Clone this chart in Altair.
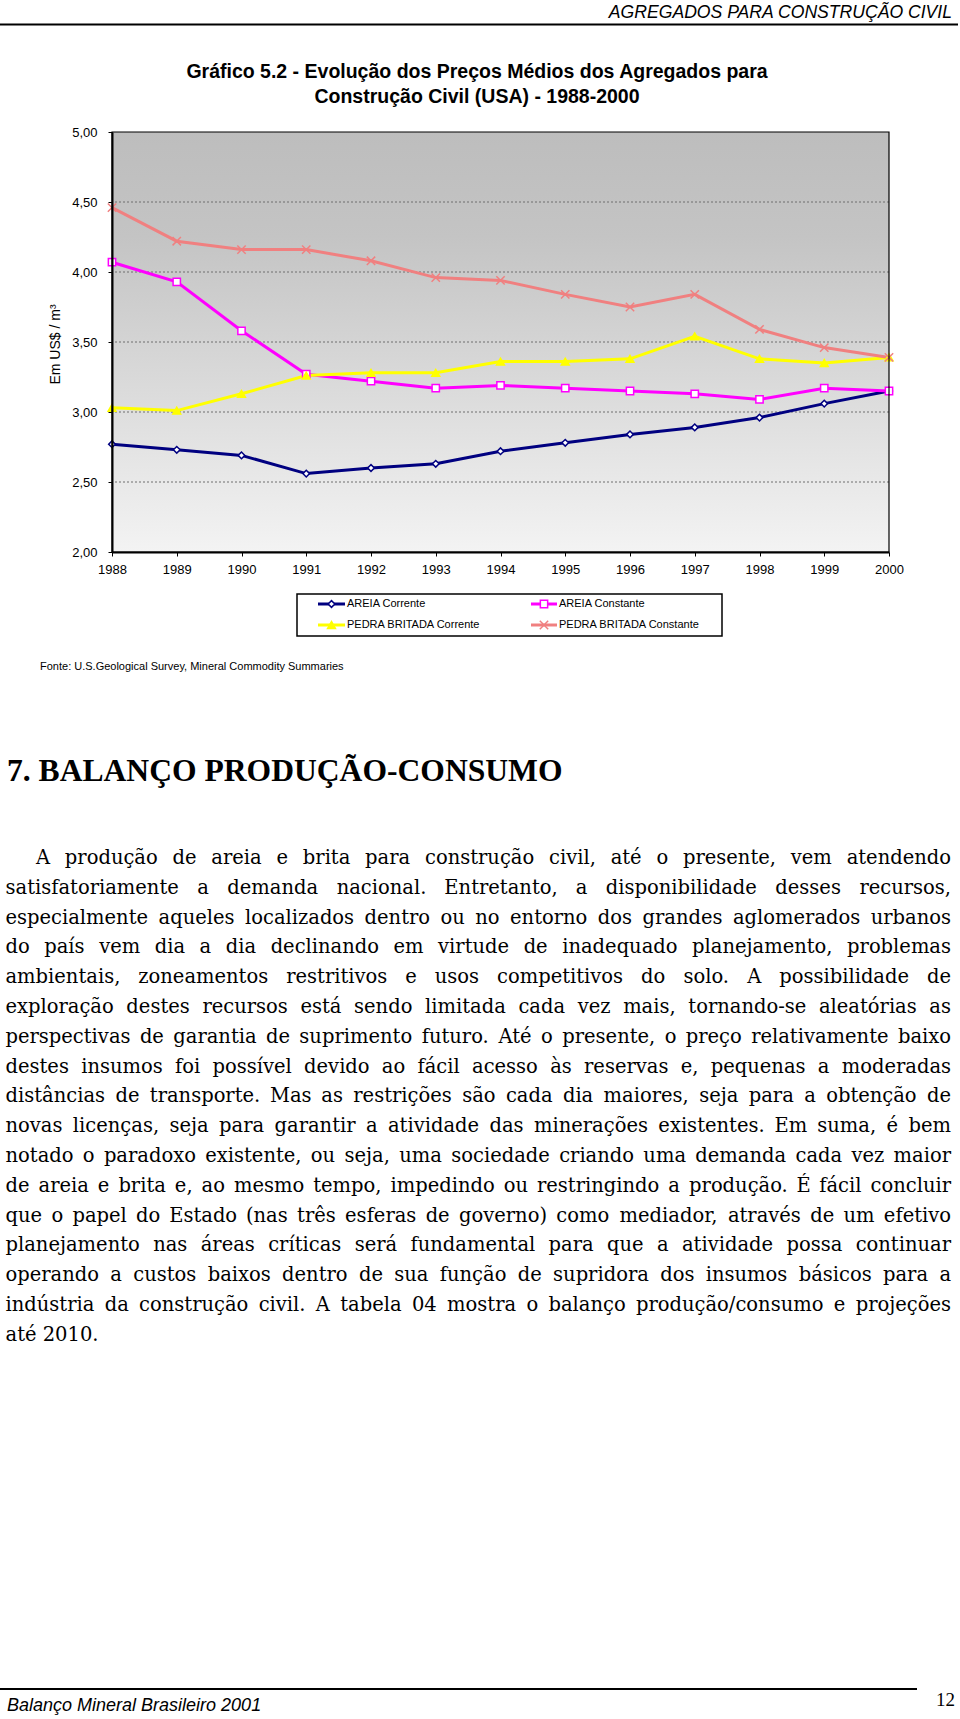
import unicodedata
import altair as alt
import pandas as pd

# ---------------- data ----------------
years = [1988, 1989, 1990, 1991, 1992, 1993, 1994, 1995, 1996, 1997, 1998, 1999, 2000]
areia_corrente = [2.77, 2.73, 2.69, 2.56, 2.60, 2.63, 2.72, 2.78, 2.84, 2.89, 2.96, 3.06, 3.15]
areia_constante = [4.07, 3.93, 3.58, 3.27, 3.22, 3.17, 3.19, 3.17, 3.15, 3.13, 3.09, 3.17, 3.15]
pedra_corrente = [3.03, 3.01, 3.13, 3.26, 3.28, 3.28, 3.36, 3.36, 3.38, 3.54, 3.38, 3.35, 3.39]
pedra_constante = [4.46, 4.22, 4.16, 4.16, 4.08, 3.96, 3.94, 3.84, 3.75, 3.84, 3.59, 3.46, 3.39]
series_names = ["AREIA Corrente", "AREIA Constante", "PEDRA BRITADA Corrente", "PEDRA BRITADA Constante"]
y_ticks = [2.0, 2.5, 3.0, 3.5, 4.0, 4.5, 5.0]
grid_values = [2.5, 3.0, 3.5, 4.0, 4.5]

header_text = "AGREGADOS PARA CONSTRUÇÃO CIVIL"
title_lines = ["Gráfico 5.2 - Evolução dos Preços Médios dos Agregados para",
               "Construção Civil (USA) - 1988-2000"]
y_title = "Em US$ / m³"
source_text = "Fonte: U.S.Geological Survey, Mineral Commodity Summaries"
section_title = "7. BALANÇO PRODUÇÃO-CONSUMO"
paragraph_lines = [
    "A produção de areia e brita para construção civil, até o presente, vem atendendo",
    "satisfatoriamente a demanda nacional. Entretanto, a disponibilidade desses recursos,",
    "especialmente aqueles localizados dentro ou no entorno dos grandes aglomerados urbanos",
    "do país vem dia a dia declinando em virtude de inadequado planejamento, problemas",
    "ambientais, zoneamentos restritivos e usos competitivos do solo. A possibilidade de",
    "exploração destes recursos está sendo limitada cada vez mais, tornando-se aleatórias as",
    "perspectivas de garantia de suprimento futuro. Até o presente, o preço relativamente baixo",
    "destes insumos foi possível devido ao fácil acesso às reservas e, pequenas a moderadas",
    "distâncias de transporte. Mas as restrições são cada dia maiores, seja para a obtenção de",
    "novas licenças, seja para garantir a atividade das minerações existentes. Em suma, é bem",
    "notado o paradoxo existente, ou seja, uma sociedade criando uma demanda cada vez maior",
    "de areia e brita e, ao mesmo tempo, impedindo ou restringindo a produção. É fácil concluir",
    "que o papel do Estado (nas três esferas de governo) como mediador, através de um efetivo",
    "planejamento nas áreas críticas será fundamental para que a atividade possa continuar",
    "operando a custos baixos dentro de sua função de supridora dos insumos básicos para a",
    "indústria da construção civil. A tabela 04 mostra o balanço produção/consumo e projeções",
    "até 2010.",
]
footer_text = "Balanço Mineral Brasileiro 2001"
page_number = "12"

# ---------------- geometry (page pixels) ----------------
PL, PT, PW, PH = 112, 132, 777, 420
PAGE_W, PAGE_H = 960, 1719


def px(x):
    return x - PL


def py(y):
    return y - PT


SANS = "Liberation Sans"
SERIF = "Liberation Serif"
BODY = "DejaVu Serif"

# ---------------- chart tables ----------------
rows = []
for name, vals in zip(series_names, [areia_corrente, areia_constante, pedra_corrente, pedra_constante]):
    for yr, v in zip(years, vals):
        rows.append({"series": name, "year": yr, "price": v})
df = pd.DataFrame(rows)

color_scale = alt.Scale(domain=series_names, range=["#000080", "#ff00ff", "#ffff00", "#f08080"])
fill_scale = alt.Scale(domain=series_names, range=["#ffffff", "#ffffff", "#ffff00", "transparent"])
shape_scale = alt.Scale(domain=series_names,
                        range=["diamond", "square", "triangle-up", "M-1,-1L1,1M-1,1L1,-1"])
size_scale = alt.Scale(domain=series_names, range=[45, 70, 55, 60])
sw_scale = alt.Scale(domain=series_names, range=[1.5, 1.5, 1, 2])

x_enc = alt.X("year:Q", scale=alt.Scale(domain=[1988, 2000], nice=False, zero=False),
              axis=alt.Axis(values=years, format="d", title=None, grid=False, tickSize=4,
                            labelFlush=False, labelOverlap=False,
                            labelPadding=7, labelFontSize=13, labelFont=SANS, labelColor="black",
                            domainColor="black", domainWidth=2, tickColor="black", zindex=1))
y_enc = alt.Y("price:Q", scale=alt.Scale(domain=[2, 5], nice=False, zero=False),
              axis=alt.Axis(values=y_ticks, labelFlush=False, labelOverlap=False,
                            labelExpr="replace(format(datum.value, '.2f'), '.', ',')",
                            title=y_title, titleX=-57, titleY=212, titleAngle=270,
                            titleAlign="center", titleBaseline="middle", titleFontSize=14,
                            titleFontWeight="normal", titleFont=SANS, titleColor="black",
                            grid=False, tickSize=4, labelPadding=11, labelFontSize=13,
                            labelFont=SANS, labelColor="black", domainColor="black",
                            domainWidth=2, tickColor="black", zindex=1))

bg_df = pd.DataFrame({"year": [years[0]], "year2": [years[-1]], "price": [y_ticks[0]], "price2": [y_ticks[-1]]})
gradient = alt.LinearGradient(gradient="linear", x1=0, x2=0, y1=0, y2=1,
                              stops=[alt.GradientStop(color="#bdbdbd", offset=0),
                                     alt.GradientStop(color="#c4c4c4", offset=0.25),
                                     alt.GradientStop(color="#f3f3f3", offset=1)])
background = alt.Chart(bg_df).mark_rect(color=gradient).encode(x=x_enc, x2="year2:Q", y=y_enc, y2="price2:Q")
frame = alt.Chart(bg_df).mark_rect(fill="transparent", stroke="black", strokeWidth=1.2).encode(
    x="year:Q", x2="year2:Q", y="price:Q", y2="price2:Q")

grid = alt.Chart(pd.DataFrame({"price": grid_values})).mark_rule(
    strokeDash=[2, 2], color="#6e6e6e", strokeWidth=1).encode(y="price:Q")

lines = alt.Chart(df).mark_line(strokeWidth=3).encode(
    x="year:Q", y="price:Q",
    color=alt.Color("series:N", scale=color_scale, legend=None),
    detail="series:N")

points = alt.Chart(df).mark_point(opacity=1).encode(
    x="year:Q", y="price:Q",
    stroke=alt.Stroke("series:N", scale=color_scale, legend=None),
    fill=alt.Fill("series:N", scale=fill_scale, legend=None),
    shape=alt.Shape("series:N", scale=shape_scale, legend=None),
    size=alt.Size("series:N", scale=size_scale, legend=None),
    strokeWidth=alt.StrokeWidth("series:N", scale=sw_scale, legend=None))

# ---------------- legend (drawn from series list) ----------------
leg_cols = [(318, 345, 347), (531, 557, 559)]
leg_rows = [604, 625]
leg = []
for i, name in enumerate(series_names):
    c0, c1, tx = leg_cols[i % 2]
    ry = leg_rows[i // 2]
    leg.append({"series": name, "lx0": px(c0), "lx1": px(c1), "lxm": px((c0 + c1) / 2),
                "ltx": px(tx), "ly": py(ry)})
leg_df = pd.DataFrame(leg)

leg_box = alt.Chart(pd.DataFrame({"k": [0]})).mark_rect(
    fill="white", stroke="black", strokeWidth=1.5).encode(
    x=alt.value(px(297)), x2=alt.value(px(722)), y=alt.value(py(594)), y2=alt.value(py(636)))
leg_lines = alt.Chart(leg_df).mark_rule(strokeWidth=3).encode(
    x=alt.X("lx0:Q", scale=None), x2="lx1:Q", y=alt.Y("ly:Q", scale=None),
    color=alt.Color("series:N", scale=color_scale, legend=None))
leg_pts = alt.Chart(leg_df).mark_point(opacity=1).encode(
    x=alt.X("lxm:Q", scale=None), y=alt.Y("ly:Q", scale=None),
    stroke=alt.Stroke("series:N", scale=color_scale, legend=None),
    fill=alt.Fill("series:N", scale=fill_scale, legend=None),
    shape=alt.Shape("series:N", scale=shape_scale, legend=None),
    size=alt.Size("series:N", scale=size_scale, legend=None),
    strokeWidth=alt.StrokeWidth("series:N", scale=sw_scale, legend=None))
leg_txt = alt.Chart(leg_df).mark_text(align="left", baseline="middle", font=SANS, fontSize=11,
                                      color="black").encode(
    x=alt.X("ltx:Q", scale=None), y=alt.Y("ly:Q", scale=None), text="series:N")

# ---------------- page text ----------------
one = pd.DataFrame({"k": [0]})


def text_at(txt, xp, yp, size, font, weight="normal", style="normal", align="left",
            baseline="alphabetic"):
    return alt.Chart(one).mark_text(text=txt, font=font, fontSize=size, fontWeight=weight,
                                    fontStyle=style, align=align, baseline=baseline,
                                    color="black").encode(x=alt.value(px(xp)), y=alt.value(py(yp)))


def hline(x0, x1, yp, w):
    return alt.Chart(one).mark_rule(color="black", strokeWidth=w).encode(
        x=alt.value(px(x0)), x2=alt.value(px(x1)), y=alt.value(py(yp)))


page = [
    text_at(header_text, 952, 18, 17.6, SANS, style="italic", align="right"),
    hline(0, 958, 24.5, 2),
    text_at(title_lines[0], 477, 78, 19.5, SANS, weight="bold", align="center"),
    text_at(title_lines[1], 477, 103, 19.5, SANS, weight="bold", align="center"),
    text_at(source_text, 40, 670, 11, SANS),
    text_at(section_title, 7, 781, 31.6, SERIF, weight="bold"),
    hline(0, 917, 1689, 2),
    text_at(footer_text, 7, 1711, 18, SANS, style="italic"),
    text_at(page_number, 955, 1706, 19, SERIF, align="right"),
]

# ---------------- justified paragraph ----------------
EM = {" ": 0.318, "a": 0.596, "b": 0.640, "c": 0.560, "d": 0.640, "e": 0.592, "f": 0.370,
      "g": 0.640, "h": 0.644, "i": 0.320, "j": 0.311, "k": 0.606, "l": 0.320, "m": 0.948,
      "n": 0.644, "o": 0.602, "p": 0.640, "q": 0.640, "r": 0.478, "s": 0.513, "t": 0.402,
      "u": 0.644, "v": 0.565, "w": 0.856, "x": 0.564, "y": 0.565, "z": 0.526,
      "A": 0.722, "B": 0.684, "C": 0.699, "D": 0.771, "E": 0.684, "F": 0.637, "G": 0.764,
      "H": 0.835, "I": 0.395, "J": 0.404, "K": 0.729, "L": 0.636, "M": 0.957, "N": 0.813,
      "O": 0.781, "P": 0.623, "Q": 0.781, "R": 0.691, "S": 0.657, "T": 0.684, "U": 0.790,
      "V": 0.722, "W": 1.041, "X": 0.722, "Y": 0.684, "Z": 0.662,
      ",": 0.318, ".": 0.318, "-": 0.339, "/": 0.337, "(": 0.390, ")": 0.390}


def em_width(s):
    tot = 0.0
    for ch in s:
        base = unicodedata.normalize("NFD", ch)[0]
        tot += EM.get(base, 0.636)
    return tot


LEFT, RIGHT, INDENT = 5.5, 951, 36
FS = 19.5
for i, line in enumerate(paragraph_lines[:-1]):
    ws = line.split(" ")
    left = INDENT if i == 0 else LEFT
    need = sum(em_width(w) for w in ws) + 0.22 * (len(ws) - 1)
    FS = min(FS, (RIGHT - left) / need)

BASE0, LEAD = 864, 29.8
words = []
for i, line in enumerate(paragraph_lines):
    ws = line.split(" ")
    left = INDENT if i == 0 else LEFT
    wid = [em_width(w) * FS for w in ws]
    if i == len(paragraph_lines) - 1:
        gap = EM[" "] * FS
    else:
        gap = (RIGHT - left - sum(wid)) / (len(ws) - 1)
    x = left
    for w, wd in zip(ws, wid):
        words.append({"word": w, "wx": px(x + wd / 2), "wy": py(BASE0 + i * LEAD)})
        x += wd + gap
words_df = pd.DataFrame(words)

body = alt.Chart(words_df).mark_text(font=BODY, fontSize=FS, align="center", baseline="alphabetic",
                                     color="black").encode(
    x=alt.X("wx:Q", scale=None), y=alt.Y("wy:Q", scale=None), text="word:N")

chart = alt.layer(
    background, grid, lines, points, frame,
    leg_box, leg_lines, leg_pts, leg_txt,
    *page, body,
).properties(
    width=PW, height=PH,
    padding={"left": PL, "top": PT, "right": PAGE_W - PL - PW, "bottom": PAGE_H - PT - PH},
    autosize=alt.AutoSizeParams(type="none"),
    background="white",
).configure_view(stroke=None)

chart.save("out.html", embed_options={"renderer": "svg", "actions": False})
